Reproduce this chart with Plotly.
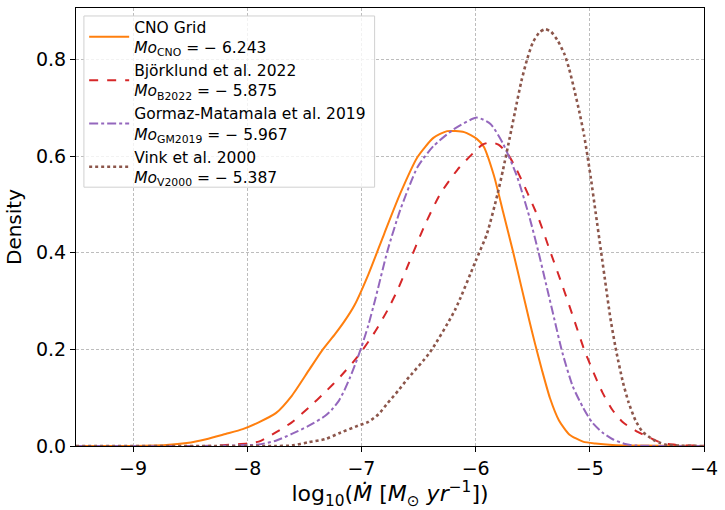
import plotly.graph_objects as go

# ---- data ----
cno_x = [-9.5, -9.06, -8.71, -8.53, -8.36, -8.19, -8.04, -7.90, -7.75, -7.61, -7.46, -7.35,
         -7.23, -7.15, -7.06, -6.94, -6.80, -6.66, -6.51, -6.37, -6.25, -6.10, -5.99, -5.93,
         -5.84, -5.76, -5.67, -5.60, -5.53, -5.48, -5.42, -5.35, -5.27, -5.18, -5.06, -4.95,
         -4.80, -4.66, -4.0]
cno_y = [0, 0, 0.002, 0.006, 0.014, 0.025, 0.035, 0.049, 0.068, 0.104, 0.157, 0.196,
         0.232, 0.258, 0.292, 0.355, 0.44, 0.523, 0.598, 0.638, 0.652, 0.650, 0.636, 0.62,
         0.56, 0.485, 0.40, 0.33, 0.26, 0.212, 0.158, 0.10, 0.053, 0.024, 0.009, 0.005,
         0.002, 0.001, 0]

b22_x = [-9.5, -8.4, -8.0, -7.90, -7.75, -7.61, -7.46, -7.32, -7.18, -7.03, -6.88, -6.77,
         -6.68, -6.60, -6.45, -6.31, -6.16, -6.02, -5.94, -5.87, -5.80, -5.72, -5.64, -5.45,
         -5.35, -5.24, -5.14, -5.05, -4.98, -4.89, -4.80, -4.71, -4.60, -4.51, -4.40, -4.31,
         -4.16, -4.0]
b22_y = [0, 0, 0.005, 0.009, 0.028, 0.049, 0.080, 0.111, 0.145, 0.186, 0.237, 0.282,
         0.325, 0.37, 0.455, 0.522, 0.572, 0.607, 0.624, 0.629, 0.624, 0.605, 0.572, 0.472,
         0.405, 0.332, 0.263, 0.2, 0.159, 0.111, 0.074, 0.049, 0.032, 0.021, 0.009, 0.004,
         0.001, 0.001]

gm19_x = [-9.5, -8.3, -8.0, -7.90, -7.75, -7.61, -7.46, -7.32, -7.26, -7.20, -7.15, -7.10,
          -7.05, -7.00, -6.94, -6.88, -6.77, -6.66, -6.51, -6.37, -6.19, -5.99, -5.87, -5.76,
          -5.64, -5.53, -5.45, -5.38, -5.31, -5.24, -5.15, -5.06, -4.98, -4.89, -4.80, -4.69,
          -4.60, -4.0]
gm19_y = [0, 0, 0.002, 0.003, 0.011, 0.025, 0.042, 0.062, 0.075, 0.093, 0.115, 0.142,
          0.172, 0.205, 0.25, 0.303, 0.406, 0.489, 0.577, 0.621, 0.656, 0.680, 0.667, 0.626,
          0.56, 0.475, 0.402, 0.332, 0.262, 0.193, 0.124, 0.08, 0.049, 0.028, 0.014, 0.004,
          0.001, 0]

v00_x = [-9.5, -7.75, -7.61, -7.46, -7.32, -7.18, -7.03, -6.94, -6.85, -6.77, -6.68, -6.60,
         -6.40, -6.18, -6.00, -5.90, -5.81, -5.76, -5.70, -5.64, -5.60, -5.55, -5.50, -5.44,
         -5.39, -5.34, -5.28, -5.22, -5.18, -5.14, -5.09, -5.05, -5.02, -4.99, -4.95, -4.90,
         -4.86, -4.82, -4.77, -4.71, -4.66, -4.60, -4.54, -4.47, -4.43, -4.38, -4.32, -4.0]
v00_y = [0, 0, 0.001, 0.008, 0.014, 0.028, 0.042, 0.05, 0.066, 0.089, 0.114, 0.138,
         0.194, 0.282, 0.383, 0.44, 0.52, 0.572, 0.64, 0.71, 0.755, 0.80, 0.835, 0.857,
         0.863, 0.858, 0.839, 0.81, 0.78, 0.742, 0.69, 0.643, 0.60, 0.553, 0.485, 0.40,
         0.332, 0.265, 0.198, 0.132, 0.09, 0.053, 0.03, 0.017, 0.011, 0.006, 0.002, 0]

names = [
    "CNO Grid<br><i>Mo</i><sub>CNO</sub> = − 6.243",
    "Björklund et al. 2022<br><i>Mo</i><sub>B2022</sub> = − 5.875",
    "Gormaz-Matamala et al. 2019<br><i>Mo</i><sub>GM2019</sub> = − 5.967",
    "Vink et al. 2000<br><i>Mo</i><sub>V2000</sub> = − 5.387",
]
colors = ["#ff7f0e", "#d62728", "#9467bd", "#8c564b"]
dashes = ["solid", "dash", "dashdot", "dot"]
series = [(cno_x, cno_y), (b22_x, b22_y), (gm19_x, gm19_y), (v00_x, v00_y)]

fig = go.Figure()
for (xs, ys), nm, c, d in zip(series, names, colors, dashes):
    fig.add_trace(go.Scatter(
        x=xs, y=ys, mode="lines", name=nm,
        line=dict(color=c, dash=d, width=2 if d != "dot" else 2.6, shape="spline", smoothing=0.6),
    ))

axis_common = dict(
    showgrid=True, gridcolor="#bdbdbd", griddash="3px,2px", gridwidth=1,
    showline=True, linecolor="black", linewidth=1.2, mirror=True,
    ticks="outside", ticklen=5, tickcolor="black",
    tickfont=dict(size=19, color="black"), zeroline=False,
)

fig.update_layout(
    width=725, height=510,
    margin=dict(l=76, r=16, t=7, b=63),
    paper_bgcolor="white", plot_bgcolor="white",
    font=dict(family="DejaVu Sans", color="black"),
    xaxis=dict(range=[-9.5, -4], tickvals=[-9, -8, -7, -6, -5, -4],
               title=dict(text="log<sub>10</sub>(<i>M\u0307</i> [<i>M</i><sub>⊙</sub> <i>yr</i><sup>−1</sup>])",
                          font=dict(size=22), standoff=9),
               **axis_common),
    yaxis=dict(range=[0, 0.907], tickvals=[0, 0.2, 0.4, 0.6, 0.8], tickformat=".1f",
               title=dict(text="Density", font=dict(size=20), standoff=8),
               **axis_common),
    legend=dict(x=0.013, y=0.995, xanchor="left", yanchor="top",
                bgcolor="rgba(0,0,0,0)", borderwidth=0,
                font=dict(size=15.5, color="black"), itemwidth=40),
    showlegend=True,
    shapes=[dict(type="rect", xref="paper", yref="paper",
                 x0=0.0126, x1=0.4755, y0=0.5909, y1=0.9818,
                 fillcolor="rgba(255,255,255,0.8)", line=dict(color="#d0d0d0", width=1),
                 layer="above")],
)

fig.write_html("out.html")
